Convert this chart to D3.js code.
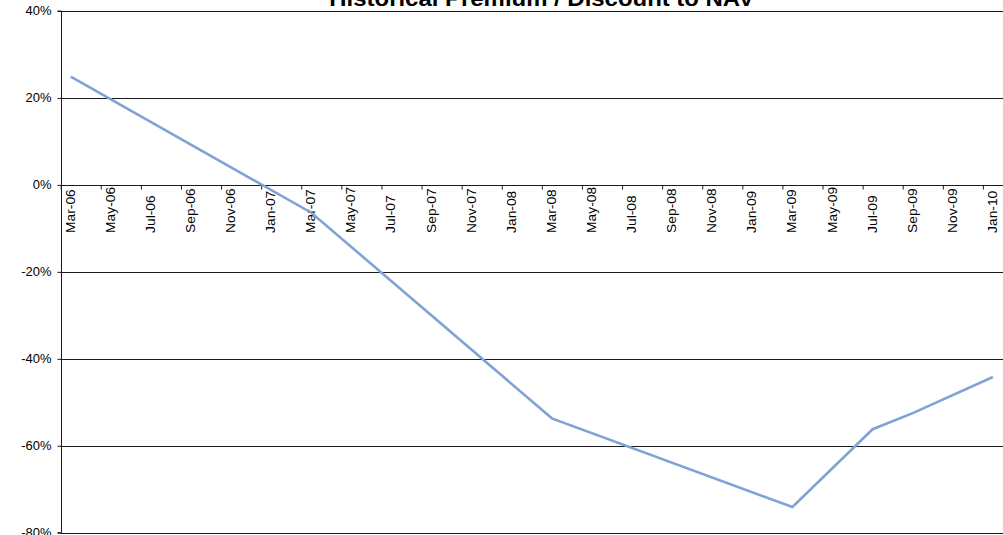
<!DOCTYPE html>
<html>
<head>
<meta charset="utf-8">
<script src="https://cdn.jsdelivr.net/npm/d3@7"></script>
<style>
  html, body { margin: 0; padding: 0; background: #fff; overflow: hidden; }
  svg { display: block; font-family: Arial, "Liberation Sans", sans-serif; }
</style>
</head>
<body>
<div id="chart"></div>
<script>
// ---- data ----
const title = "Historical Premium / Discount to NAV";
// month axis: Mar-06 .. Feb-10 (48 monthly categories)
const axisStart = "2006-03";
const axisMonths = 48;
const tickLabels = ["Mar-06","May-06","Jul-06","Sep-06","Nov-06","Jan-07","Mar-07","May-07",
  "Jul-07","Sep-07","Nov-07","Jan-08","Mar-08","May-08","Jul-08","Sep-08","Nov-08","Jan-09",
  "Mar-09","May-09","Jul-09","Sep-09","Nov-09","Jan-10"];
const pointDates = ["2006-03","2007-03","2008-03","2009-03","2009-07","2009-09","2010-01"];
const pointValues = [24.9, -6.4, -53.7, -74.1, -56.2, -52.5, -44.2];
const yTicks = [40, 20, 0, -20, -40, -60, -80];

// ---- layout ----
const W = 1003, H = 535;
const mLeft = 60.7, mRight = 1023, mTop = 11, mBottom = 532.7;

function monthIndex(s) {
  const [yy, mm] = s.split("-").map(Number);
  const [y0, m0] = axisStart.split("-").map(Number);
  return (yy - y0) * 12 + (mm - m0);
}
const parseLbl = d3.timeParse("%b-%y");
function labelIndex(l) {
  const d = parseLbl(l);
  return monthIndex(d3.timeFormat("%Y-%m")(d));
}

const x = d3.scaleLinear().domain([0, axisMonths]).range([mLeft, mRight]);
const y = d3.scaleLinear().domain([-80, 40]).range([mBottom, mTop]);

const svg = d3.select("#chart").append("svg").attr("width", W).attr("height", H);

// gridlines
svg.append("g").selectAll("line").data(yTicks).join("line")
  .attr("x1", mLeft).attr("x2", mRight)
  .attr("y1", d => Math.round(y(d)) + 0.5).attr("y2", d => Math.round(y(d)) + 0.5)
  .attr("stroke", "#1a1a1a").attr("stroke-width", 1);

// y axis
const yAxis = d3.axisLeft(y).tickValues(yTicks).tickSize(4).tickPadding(6)
  .tickFormat(d => d + "%");
const gy = svg.append("g").attr("transform", `translate(${Math.round(mLeft) + 0.5},0)`).call(yAxis);
gy.select(".domain").attr("stroke", "#1a1a1a").attr("d", `M-4,${mTop}H0V${mBottom}H-4`);
gy.selectAll(".tick line").attr("stroke", "#1a1a1a");
gy.selectAll(".tick text").attr("font-size", 12).attr("fill", "#000")
  .attr("font-family", "Arial, 'Liberation Sans', sans-serif")
  .attr("x", -10 / 1.08)
  .attr("transform", "scale(1.08,1)");

// x axis at 0%
const tickIdx = d3.range(0, axisMonths + 1, 2);
const xAxis = d3.axisBottom(x).tickValues(tickIdx).tickSize(4).tickFormat("");
const gx = svg.append("g").attr("transform", `translate(0,${Math.round(y(0)) + 0.5})`).call(xAxis);
gx.select(".domain").attr("stroke", "#1a1a1a").attr("d", `M${mLeft},0H${mRight}`);
gx.selectAll(".tick line").attr("stroke", "#1a1a1a");

// x labels (rotated)
svg.append("g").selectAll("text").data(tickLabels).join("text")
  .attr("transform", d => `translate(${x(labelIndex(d) + 0.5) + 4},${y(0) + 48}) rotate(-90) scale(1.15,1)`)
  .attr("text-anchor", "start")
  .attr("font-size", 12)
  .attr("fill", "#000")
  .text(d => d);

// line
const line = d3.line()
  .x((d, i) => x(monthIndex(pointDates[i]) + 0.5))
  .y(d => y(d));
svg.append("path").datum(pointValues)
  .attr("d", line)
  .attr("fill", "none")
  .attr("stroke", "#7fa3d6")
  .attr("stroke-width", 2.6)
  .attr("stroke-linejoin", "miter");

// title
svg.append("text")
  .attr("x", (mLeft + mRight) / 2).attr("y", 6)
  .attr("text-anchor", "middle")
  .attr("font-size", 22).attr("font-weight", "bold")
  .attr("textLength", 425).attr("lengthAdjust", "spacingAndGlyphs")
  .text(title);
</script>
</body>
</html>
